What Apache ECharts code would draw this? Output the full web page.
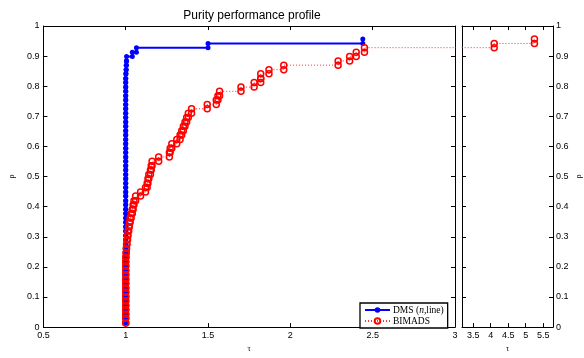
<!DOCTYPE html>
<html>
<head>
<meta charset="utf-8">
<script src="https://cdn.jsdelivr.net/npm/echarts@6/dist/echarts.min.js"></script>
<style>
  html, body { margin: 0; padding: 0; background: #fff; }
  #chart { width: 584px; height: 358px; }
</style>
</head>
<body>
<div id="chart"></div>
<script>
// performance ratio tau of each solved problem (sorted)
var dmsTau = [
  1, 1, 1, 1, 1, 1, 1, 1, 1, 1, 1, 1, 1, 1, 1, 1, 1, 1, 1, 1,
  1, 1, 1, 1, 1, 1, 1, 1, 1, 1, 1, 1, 1, 1, 1, 1, 1, 1, 1, 1,
  1, 1, 1, 1, 1, 1, 1, 1, 1, 1, 1, 1, 1, 1, 1, 1, 1, 1,
  1.002, 1.003, 1.004, 1.005,
  1.04, 1.065, 1.5, 2.44
]
var bimadsTau = [
  1, 1, 1, 1, 1, 1, 1, 1, 1, 1, 1, 1, 1, 1, 1, 1,
  1.002, 1.003, 1.005, 1.008, 1.011, 1.014, 1.018, 1.022, 1.027, 1.033,
  1.04, 1.045, 1.05, 1.06, 1.09, 1.12, 1.13, 1.135, 1.14, 1.15,
  1.155, 1.16, 1.2, 1.265, 1.27, 1.28, 1.31, 1.33, 1.34, 1.35,
  1.36, 1.37, 1.38, 1.4, 1.495, 1.55, 1.56, 1.57, 1.7, 1.78,
  1.82, 1.82, 1.87, 1.96, 2.29, 2.36, 2.4, 2.45, 4.1, 5.25
]
// fraction of problems (rho) reached after each step
var rhoLevels = [
  0.014, 0.029, 0.043, 0.058, 0.072, 0.087, 0.101, 0.116, 0.130, 0.145,
  0.159, 0.174, 0.188, 0.203, 0.217, 0.232, 0.246, 0.261, 0.275, 0.290,
  0.304, 0.319, 0.333, 0.348, 0.362, 0.377, 0.391, 0.406, 0.420, 0.435,
  0.449, 0.464, 0.478, 0.493, 0.507, 0.522, 0.536, 0.551, 0.565, 0.580,
  0.594, 0.609, 0.623, 0.638, 0.652, 0.667, 0.681, 0.696, 0.710, 0.725,
  0.739, 0.754, 0.768, 0.783, 0.797, 0.812, 0.826, 0.841, 0.855, 0.870,
  0.884, 0.899, 0.913, 0.928, 0.942, 0.957
]
var yTicks = [0, 0.1, 0.2, 0.3, 0.4, 0.5, 0.6, 0.7, 0.8, 0.9, 1]
var rightXTicks = [3.5, 4, 4.5, 5, 5.5]

// stair points: a marker at both corners of every jump
function stairs(tau, rho) {
  var pts = [[tau[0], rho[0]]]
  for (var i = 1; i < tau.length; i++) {
    pts.push([tau[i], rho[i - 1]])
    pts.push([tau[i], rho[i]])
  }
  return pts
}

var dmsData = stairs(dmsTau, rhoLevels)
var bimadsData = stairs(bimadsTau, rhoLevels)

var labelFont = { fontSize: 9, color: '#000', fontFamily: 'Liberation Sans' }
var tick = { show: true, inside: true, length: 4, lineStyle: { color: '#000' } }
var line = { show: true, onZero: false, lineStyle: { color: '#000', width: 1 } }

function dmsSeries(x, y) {
  return {
    name: 'DMS',
    type: 'line',
    xAxisIndex: x,
    yAxisIndex: y,
    data: dmsData,
    color: '#0000ff',
    symbol: 'circle',
    symbolSize: 5,
    lineStyle: { color: '#0000ff', width: 2 },
    itemStyle: { color: '#0000ff' },
    clip: true
  }
}
function bimadsSeries(x, y) {
  return {
    name: 'BIMADS',
    type: 'line',
    xAxisIndex: x,
    yAxisIndex: y,
    data: bimadsData,
    color: '#ff0000',
    symbol: 'circle',
    symbolSize: 6,
    lineStyle: { color: '#ff3030', width: 1, type: [1, 2] },
    itemStyle: { color: 'rgba(255,255,255,0)', borderColor: '#ff0000', borderWidth: 1.5 },
    clip: true
  }
}

var chart = echarts.init(document.getElementById('chart'))
chart.setOption({
  animation: false,
  backgroundColor: '#fff',
  title: {
    text: 'Purity performance profile',
    left: 247,
    textAlign: 'center',
    top: 5,
    textStyle: { fontSize: 12, fontWeight: 'normal', color: '#000', fontFamily: 'Liberation Sans' }
  },
  legend: {
    orient: 'vertical',
    left: 360,
    top: 303,
    padding: [2, 4, 2, 4],
    itemGap: 1,
    itemWidth: 25,
    itemHeight: 7,
    backgroundColor: '#fff',
    borderColor: '#000',
    borderWidth: 1.3,
    borderRadius: 0,
    data: ['DMS', 'BIMADS'],
    formatter: function (name) {
      return name === 'DMS' ? 'DMS ({i|n},line)' : name
    },
    textStyle: {
      fontSize: 9.5,
      color: '#000',
      fontFamily: 'Liberation Serif',
      padding: [0, 0, 0, -2],
      rich: { i: { fontStyle: 'italic', fontSize: 9.5, fontFamily: 'Liberation Serif' } }
    }
  },
  grid: [
    { left: 38, top: 26, width: 417, height: 304.5 },
    { left: 462, top: 26, width: 93, height: 304.5 }
  ],
  xAxis: [
    {
      gridIndex: 0, type: 'value', position: 'bottom', min: 0.5, max: 3, interval: 0.5,
      name: 'τ', nameLocation: 'middle', nameGap: 15,
      nameTextStyle: { fontSize: 8, fontFamily: 'Liberation Serif', color: '#000' },
      axisLine: line, axisTick: tick, splitLine: { show: false },
      axisLabel: Object.assign({ margin: 4 }, labelFont)
    },
    {
      gridIndex: 0, type: 'value', position: 'top', min: 0.5, max: 3, interval: 0.5,
      axisLine: line, axisTick: tick, splitLine: { show: false }, axisLabel: { show: false }
    },
    {
      gridIndex: 1, type: 'value', position: 'bottom', min: 3.18, max: 5.78,
      name: 'τ', nameLocation: 'middle', nameGap: 15,
      nameTextStyle: { fontSize: 8, fontFamily: 'Liberation Serif', color: '#000' },
      axisLine: line,
      axisTick: Object.assign({ customValues: rightXTicks }, tick),
      splitLine: { show: false },
      axisLabel: Object.assign({ margin: 4, customValues: rightXTicks }, labelFont)
    },
    {
      gridIndex: 1, type: 'value', position: 'top', min: 3.18, max: 5.78,
      axisLine: line,
      axisTick: Object.assign({ customValues: rightXTicks }, tick),
      splitLine: { show: false }, axisLabel: { show: false }
    }
  ],
  yAxis: [
    {
      gridIndex: 0, type: 'value', position: 'left', min: 0, max: 1, interval: 0.1,
      name: 'ρ', nameLocation: 'middle', nameGap: 23, nameRotate: 90,
      nameTextStyle: { fontSize: 8, fontFamily: 'Liberation Serif', color: '#000' },
      axisLine: line, axisTick: tick, splitLine: { show: false },
      axisLabel: Object.assign({ margin: 4 }, labelFont)
    },
    {
      gridIndex: 0, type: 'value', position: 'right', min: 0, max: 1, interval: 0.1,
      axisLine: line, axisTick: tick, splitLine: { show: false }, axisLabel: { show: false }
    },
    {
      gridIndex: 1, type: 'value', position: 'left', min: 0, max: 1, interval: 0.1,
      axisLine: line, axisTick: tick, splitLine: { show: false }, axisLabel: { show: false }
    },
    {
      gridIndex: 1, type: 'value', position: 'right', min: 0, max: 1, interval: 0.1,
      name: 'ρ', nameLocation: 'middle', nameGap: 22, nameRotate: 90,
      nameTextStyle: { fontSize: 8, fontFamily: 'Liberation Serif', color: '#000' },
      axisLine: line, axisTick: tick, splitLine: { show: false },
      axisLabel: Object.assign({ margin: 3 }, labelFont)
    }
  ],
  series: [
    dmsSeries(0, 0),
    bimadsSeries(0, 0),
    dmsSeries(2, 2),
    bimadsSeries(2, 2)
  ]
})
</script>
</body>
</html>
